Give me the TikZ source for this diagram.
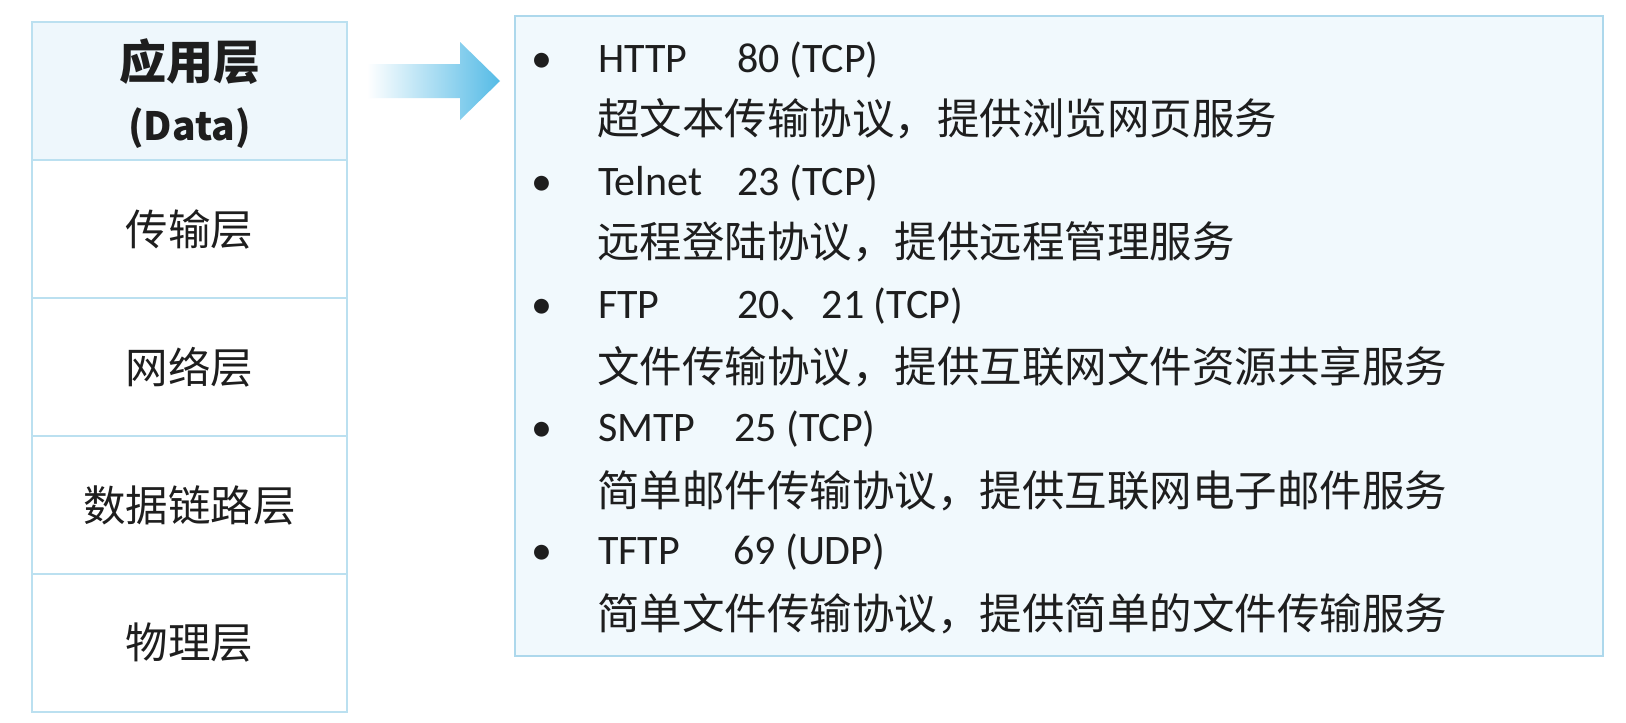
\documentclass[tikz,border=0pt]{standalone}
\usepackage{fontspec}
\setmainfont{Carlito}
\newfontfamily\zhfont{Noto Sans CJK SC}
\definecolor{edgeblue}{HTML}{BBE0F0}
\definecolor{topfill}{HTML}{EEF7FC}
\definecolor{boxfill}{HTML}{F1F9FD}
\definecolor{boxedge}{HTML}{ADD8EC}
\definecolor{arrowblue}{HTML}{55BBE6}
\definecolor{txt}{HTML}{1E1E1E}
\tikzset{
  layer/.style={draw=edgeblue, line width=2.2pt, rectangle, minimum width=315pt, minimum height=138pt, inner sep=0pt},
  lbl/.style={text=txt, font=\zhfont\fontsize{42.5}{50}\selectfont, inner sep=0pt},
  rbox/.style={draw=boxedge, fill=boxfill, line width=2pt, rectangle, inner sep=0pt},
  latintxt/.style={text=txt, font=\fontsize{42}{50}\selectfont, inner sep=0pt, anchor=base west},
  zhtxt/.style={text=txt, font=\zhfont\fontsize{42.5}{50}\selectfont, inner sep=0pt, anchor=base west},
  bul/.style={text=txt, font=\fontsize{42}{50}\selectfont, inner sep=0pt, anchor=base},
}
\begin{document}
\begin{tikzpicture}[x=1pt,y=-1pt]
\useasboundingbox (0,0) rectangle (1626,723);
\fill[white] (0,0) rectangle (1626,723);
% left column
\node[layer, fill=topfill] (L1) at (189.5,91) {};
\node[layer, fill=white] (L2) at (189.5,229) {};
\node[layer, fill=white] (L3) at (189.5,367) {};
\node[layer, fill=white] (L4) at (189.5,505) {};
\node[layer, fill=white] (L5) at (189.5,643) {};
\node[lbl, font=\zhfont\fontsize{47}{54}\selectfont\bfseries] (t1) at (189.5,62) {应用层};
\node[lbl, font=\zhfont\fontsize{39}{46}\selectfont\bfseries] (t1b) at (189.5,128) {(Data)};
\node[lbl] (t2) at (L2.center) {传输层};
\node[lbl] (t3) at (L3.center) {网络层};
\node[lbl] (t4) at (L4.center) {数据链路层};
\node[lbl] (t5) at (L5.center) {物理层};
% arrow
\shade[left color=white, right color=arrowblue] (367,64) -- (460,64) -- (460,42) -- (500,81) -- (460,120) -- (460,98) -- (367,98) -- cycle;
% right box
\node[rbox, minimum width=1088pt, minimum height=640pt] (R) at (1059,336) {};
% entries
\node[bul] (b1) at (542,72) {•};
\node[latintxt] (p1) at (598,72) {HTTP};
\node[latintxt] (n1) at (737,72) {80 (TCP)};
\node[zhtxt] (d1) at (597,134) {超文本传输协议，提供浏览网页服务};
\node[bul] (b2) at (542,195) {•};
\node[latintxt] (p2) at (598,195) {Telnet};
\node[latintxt] (n2) at (737,195) {23 (TCP)};
\node[zhtxt] (d2) at (597,257) {远程登陆协议，提供远程管理服务};
\node[bul] (b3) at (542,318) {•};
\node[latintxt] (p3) at (598,318) {FTP};
\node[latintxt] (n3) at (737,318) {20{\zhfont 、}21 (TCP)};
\node[zhtxt] (d3) at (597,382) {文件传输协议，提供互联网文件资源共享服务};
\node[bul] (b4) at (542,441) {•};
\node[latintxt] (p4) at (598,441) {SMTP};
\node[latintxt] (n4) at (734,441) {25 (TCP)};
\node[zhtxt] (d4) at (597,506) {简单邮件传输协议，提供互联网电子邮件服务};
\node[bul] (b5) at (542,564) {•};
\node[latintxt] (p5) at (598,564) {TFTP};
\node[latintxt] (n5) at (733,564) {69 (UDP)};
\node[zhtxt] (d5) at (597,629) {简单文件传输协议，提供简单的文件传输服务};
\end{tikzpicture}
\end{document}
